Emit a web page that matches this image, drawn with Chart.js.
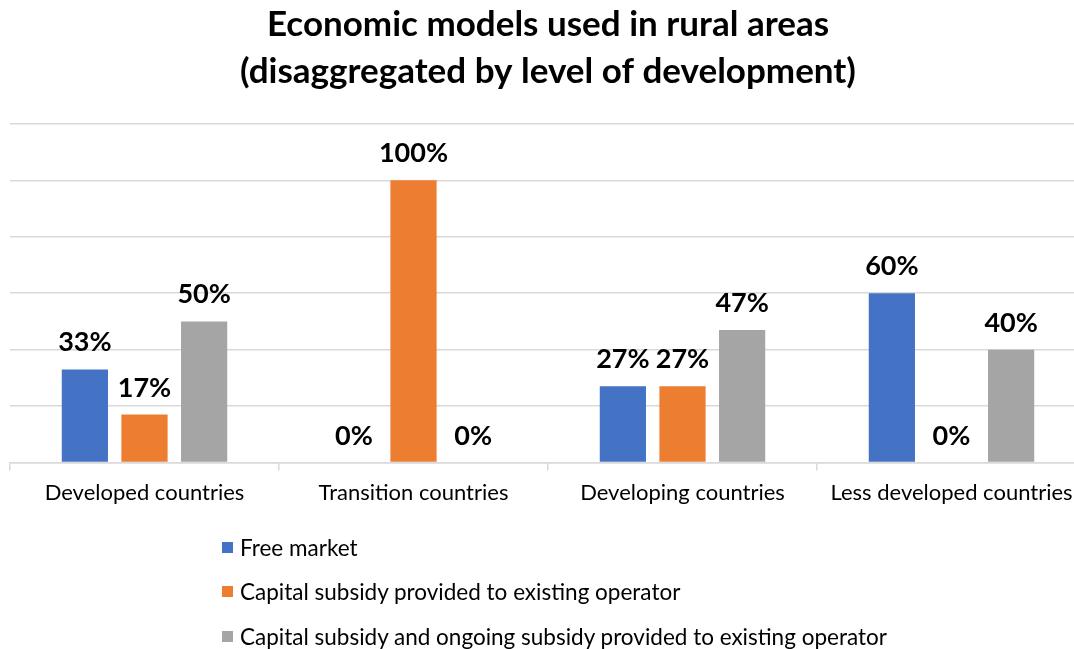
<!DOCTYPE html>
<html>
<head>
<meta charset="utf-8">
<script src="https://cdn.jsdelivr.net/npm/chart.js@4"></script>
<style>
    html, body { margin: 0; padding: 0; background: #fff; overflow: hidden; }
    #wrap { position: relative; width: 1096px; height: 649px; }
    #legend { position: absolute; left: 222px; top: 525px; font-family: Lato, sans-serif; font-size: 22.5px; color: #000; }
    .item { height: 44.5px; display: flex; align-items: center; }
    .box { width: 11px; height: 11px; margin-right: 7px; }
</style>
</head>
<body>
<div id="wrap">
    <canvas id="modelsChart" width="1096" height="649"></canvas>
    <div id="legend"></div>
</div>
<script>
const categories = ['Developed countries', 'Transition countries', 'Developing countries', 'Less developed countries'];
const seriesNames = [
    'Free market',
    'Capital subsidy provided to existing operator',
    'Capital subsidy and ongoing subsidy provided to existing operator'
];
const freeMarket = [33, 0, 27, 60];
const capitalSubsidy = [17, 100, 27, 0];
const ongoingSubsidy = [50, 0, 47, 40];
const seriesColors = ['#4472C4', '#ED7D31', '#A5A5A5'];

// labels on top of each bar, 0% included
const barLabels = {
    id: 'barLabels',
    afterDatasetsDraw(chart) {
        const ctx = chart.ctx;
        ctx.save();
        ctx.font = 'bold 27px Lato';
        ctx.fillStyle = '#000';
        ctx.textAlign = 'center';
        ctx.textBaseline = 'alphabetic';
        chart.data.datasets.forEach((ds, i) => {
            chart.getDatasetMeta(i).data.forEach((bar, j) => {
                ctx.fillText(ds.data[j] + '%', bar.x, bar.y - 18);
            });
        });
        ctx.restore();
    }
};

const ctx = document.getElementById('modelsChart');
const modelsChart = new Chart(ctx, {
    type: 'bar',
    data: {
        labels: categories,
        datasets: [freeMarket, capitalSubsidy, ongoingSubsidy].map((d, i) => ({
            label: seriesNames[i],
            data: d,
            backgroundColor: seriesColors[i],
            categoryPercentage: 0.665,
            barPercentage: 0.775
        }))
    },
    options: {
        responsive: false,
        animation: false,
        layout: {
            padding: { left: 10, right: 10, top: 1, bottom: 134 }
        },
        plugins: {
            legend: { display: false },
            tooltip: { enabled: false },
            title: {
                display: true,
                text: ['Economic models used in rural areas', '(disaggregated by level of development)'],
                color: '#000',
                font: { family: 'Lato', size: 35, weight: 'bold', lineHeight: 1.34 },
                padding: { top: 0, bottom: 29 }
            }
        },
        scales: {
            x: {
                grid: {
                    offset: true,
                    drawOnChartArea: false,
                    color: '#D9D9D9',
                    lineWidth: 1.5,
                    tickLength: 8
                },
                border: { color: '#D9D9D9', width: 1.5 },
                ticks: {
                    color: '#000',
                    padding: 9,
                    font: { family: 'Lato', size: 22 }
                }
            },
            y: {
                min: 0,
                max: 120,
                ticks: { stepSize: 20, display: false },
                grid: { color: '#D9D9D9', lineWidth: 1.5, drawTicks: false },
                border: { display: false }
            }
        }
    },
    plugins: [barLabels]
});

// legend as a vertical list, built from the datasets
const legendEl = document.getElementById('legend');
modelsChart.data.datasets.forEach(ds => {
    const row = document.createElement('div');
    row.className = 'item';
    const box = document.createElement('span');
    box.className = 'box';
    box.style.background = ds.backgroundColor;
    row.appendChild(box);
    row.appendChild(document.createTextNode(ds.label));
    legendEl.appendChild(row);
});
</script>
</body>
</html>
